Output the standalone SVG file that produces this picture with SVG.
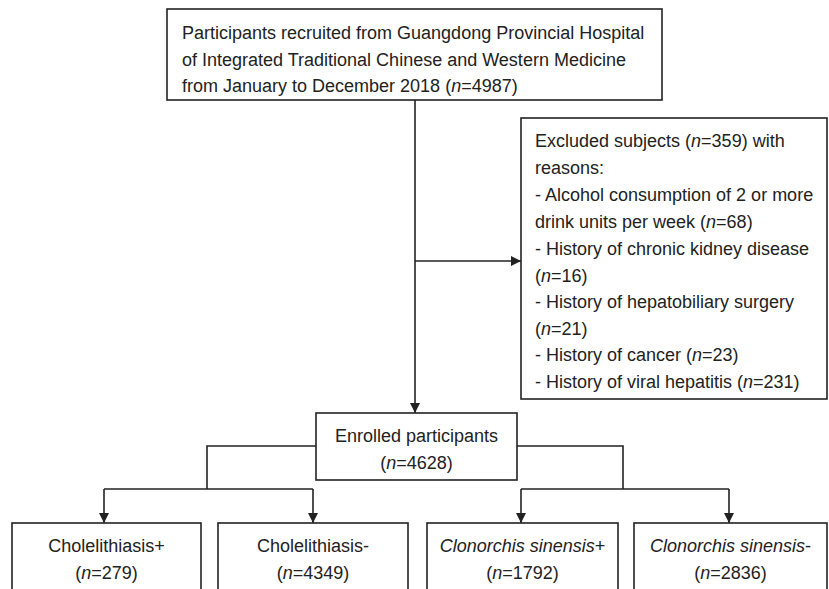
<svg xmlns="http://www.w3.org/2000/svg" width="829" height="589" viewBox="0 0 829 589">
<defs>
<style>
.box{fill:#fff;stroke:#222;stroke-width:1.6}
.t{font-family:"Liberation Sans",Arial,sans-serif;font-size:18px;fill:#222}
.c{text-anchor:middle}
.ln{fill:none;stroke:#222;stroke-width:1.6}
</style>
<marker id="ah" viewBox="0 0 10 10" refX="10" refY="5" markerWidth="10" markerHeight="10" markerUnits="userSpaceOnUse" orient="auto">
<path d="M0,0 L10,5 L0,10 z" fill="#222"/>
</marker>
</defs>
<rect width="829" height="589" fill="#fff"/>
<g id="connectors">
<path class="ln" d="M415,100 V413" marker-end="url(#ah)"/>
<path class="ln" d="M415,261 H521" marker-end="url(#ah)"/>
<path class="ln" d="M316,446 H207 V489"/>
<path class="ln" d="M104,489 H313"/>
<path class="ln" d="M104,489 V523" marker-end="url(#ah)"/>
<path class="ln" d="M313,489 V523" marker-end="url(#ah)"/>
<path class="ln" d="M517,446 H623 V489"/>
<path class="ln" d="M521,489 H729"/>
<path class="ln" d="M521,489 V523" marker-end="url(#ah)"/>
<path class="ln" d="M729,489 V523" marker-end="url(#ah)"/>
</g>
<g id="recruited">
<rect class="box" x="167" y="9" width="495" height="91"/>
<text class="t" x="182" y="39">Participants recruited from Guangdong Provincial Hospital</text>
<text class="t" x="182" y="66">of Integrated Traditional Chinese and Western Medicine</text>
<text class="t" x="182" y="92">from January to December 2018 (<tspan font-style="italic">n</tspan>=4987)</text>
</g>
<g id="excluded">
<rect class="box" x="521" y="118" width="306" height="281"/>
<text class="t" x="535" y="147">Excluded subjects (<tspan font-style="italic">n</tspan>=359) with</text>
<text class="t" x="535" y="174">reasons:</text>
<text class="t" x="535" y="201">- Alcohol consumption of 2 or more</text>
<text class="t" x="535" y="228">drink units per week (<tspan font-style="italic">n</tspan>=68)</text>
<text class="t" x="535" y="255">- History of chronic kidney disease</text>
<text class="t" x="535" y="282">(<tspan font-style="italic">n</tspan>=16)</text>
<text class="t" x="535" y="308">- History of hepatobiliary surgery</text>
<text class="t" x="535" y="335">(<tspan font-style="italic">n</tspan>=21)</text>
<text class="t" x="535" y="361">- History of cancer (<tspan font-style="italic">n</tspan>=23)</text>
<text class="t" x="535" y="388">- History of viral hepatitis (<tspan font-style="italic">n</tspan>=231)</text>
</g>
<g id="enrolled">
<rect class="box" x="316" y="413" width="201" height="67"/>
<text class="t c" x="416.5" y="442">Enrolled participants</text>
<text class="t c" x="416.5" y="469">(<tspan font-style="italic">n</tspan>=4628)</text>
</g>
<g id="chole-pos">
<rect class="box" x="12" y="523" width="189" height="80"/>
<text class="t c" x="106.5" y="552">Cholelithiasis+</text>
<text class="t c" x="106.5" y="579">(<tspan font-style="italic">n</tspan>=279)</text>
</g>
<g id="chole-neg">
<rect class="box" x="218" y="523" width="190" height="80"/>
<text class="t c" x="313" y="552">Cholelithiasis-</text>
<text class="t c" x="313" y="579">(<tspan font-style="italic">n</tspan>=4349)</text>
</g>
<g id="cs-pos">
<rect class="box" x="427" y="523" width="191" height="80"/>
<text class="t c" x="522.5" y="552"><tspan font-style="italic">Clonorchis sinensis</tspan>+</text>
<text class="t c" x="522.5" y="579">(<tspan font-style="italic">n</tspan>=1792)</text>
</g>
<g id="cs-neg">
<rect class="box" x="634" y="523" width="193" height="80"/>
<text class="t c" x="730.5" y="552"><tspan font-style="italic">Clonorchis sinensis</tspan>-</text>
<text class="t c" x="730.5" y="579">(<tspan font-style="italic">n</tspan>=2836)</text>
</g>
</svg>
